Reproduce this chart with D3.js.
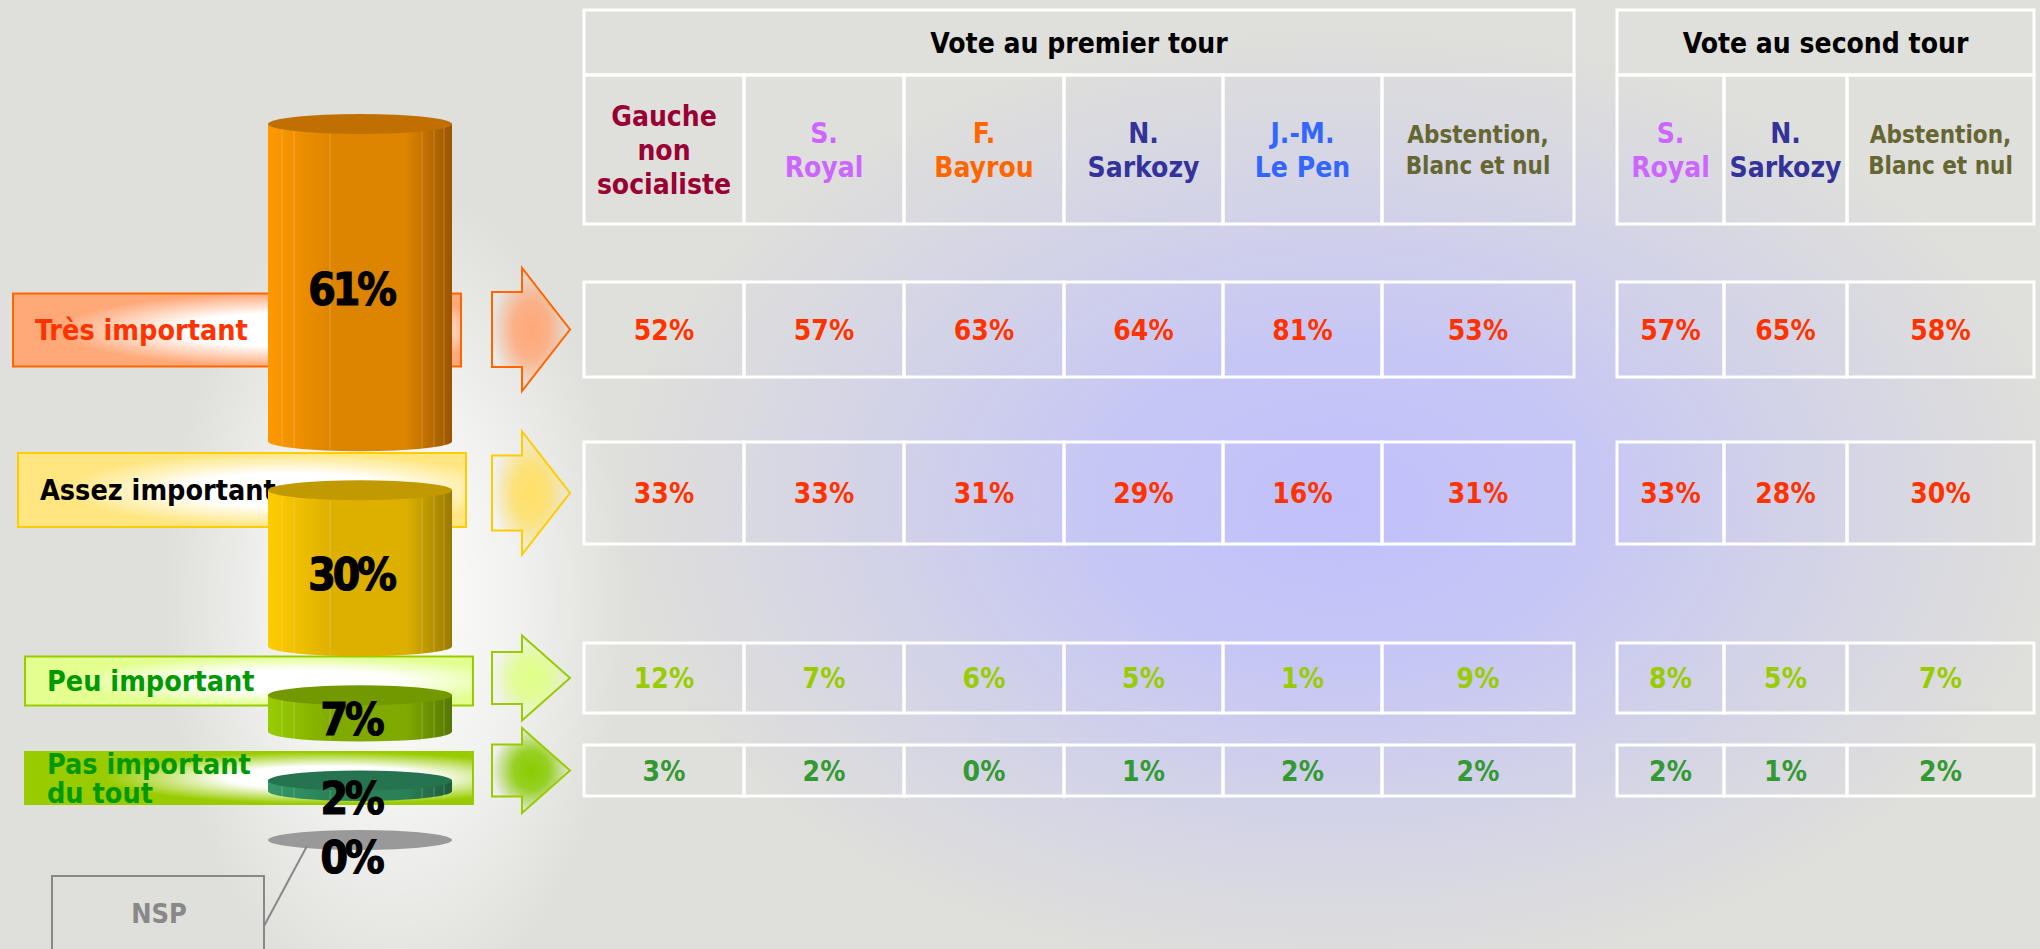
<!DOCTYPE html>
<html>
<head>
<meta charset="utf-8">
<style>
  body { margin: 0; background: #dfdfdb; }
  svg text {
    font-family: "DejaVu Sans Condensed", "DejaVu Sans", sans-serif;
    font-stretch: condensed;
    font-weight: bold;
  }
</style>
</head>
<body>
<svg width="2040" height="949"></svg>
<script src="https://d3js.org/d3.v7.min.js"></script>
<script>
// ---- data ----
var levels = ["Très important", "Assez important", "Peu important", "Pas important\ndu tout", "NSP"];
var overall = [61, 30, 7, 2, 0];

var tour1 = ["Gauche\nnon\nsocialiste", "S.\nRoyal", "F.\nBayrou", "N.\nSarkozy", "J.-M.\nLe Pen", "Abstention,\nBlanc et nul"];
var tour2 = ["S.\nRoyal", "N.\nSarkozy", "Abstention,\nBlanc et nul"];

var tour1Values = [
  [52, 57, 63, 64, 81, 53],
  [33, 33, 31, 29, 16, 31],
  [12, 7, 6, 5, 1, 9],
  [3, 2, 0, 1, 2, 2]
];
var tour2Values = [
  [57, 65, 58],
  [33, 28, 30],
  [8, 5, 7],
  [2, 1, 2]
];

// ---- styles ----
var headColors = {
  "Gauche\nnon\nsocialiste": "#990033",
  "S.\nRoyal": "#cc66ff",
  "F.\nBayrou": "#ff6600",
  "N.\nSarkozy": "#333399",
  "J.-M.\nLe Pen": "#3366ff",
  "Abstention,\nBlanc et nul": "#666633"
};
var valueColors = ["#ff3300", "#ff3300", "#99cc00", "#339933"];
var labelText = ["#ff3300", "#000000", "#009900", "#009900"];
var boxStroke = ["#ff6600", "#ffcc00", "#99cc00", "#99cc00"];
var boxFill = ["#ffa878", "#ffe680", "#e2ff90", "#99cc00"];
var arrowFill = ["#ffa878", "#ffe066", "#e0ff88", "#88cc00"];
var cyl = [
  {l: "#ff9900", m: "#dd8400", r: "#995500", top: "#c07000"},
  {l: "#ffcc00", m: "#ddb000", r: "#997a00", top: "#c09a00"},
  {l: "#99cc00", m: "#80aa00", r: "#557700", top: "#739900"},
  {l: "#339966", m: "#2b8056", r: "#1f5c3d", top: "#267350"},
  {l: "#999999", m: "#999999", r: "#999999", top: "#999999"}
];

// ---- layout ----
var rowTop = [282, 442, 643, 745],
    rowBot = [377, 544, 713, 796];
var t1x = 584, t1w = [160, 160, 160, 159, 159, 192];
var t2x = 1617, t2w = [107, 123, 187];
var headTop = 10, headMid = 75, headBot = 224;

var svg = d3.select("svg");
var defs = svg.append("defs");

function radial(id, stops, cx) {
  var g = defs.append("radialGradient").attr("id", id);
  if (cx) g.attr("cx", cx).attr("fx", cx);
  stops.forEach(function(s) {
    g.append("stop").attr("offset", s[0]).attr("stop-color", s[1]).attr("stop-opacity", s.length > 2 ? s[2] : 1);
  });
}
function linear(id, stops, vertical) {
  var g = defs.append("linearGradient").attr("id", id)
    .attr("x1", 0).attr("y1", 0).attr("x2", vertical ? 0 : 1).attr("y2", vertical ? 1 : 0);
  stops.forEach(function(s) {
    g.append("stop").attr("offset", s[0]).attr("stop-color", s[1]).attr("stop-opacity", s.length > 2 ? s[2] : 1);
  });
}

// background
svg.append("rect").attr("width", 2040).attr("height", 949).attr("fill", "#dfdfdb");
radial("blueGlow", [["0%", "#c0c0fc", 1], ["35%", "#c4c4f8", 0.9], ["100%", "#c8c8f0", 0]]);
svg.append("ellipse").attr("cx", 1340).attr("cy", 505).attr("rx", 730).attr("ry", 480)
  .attr("fill", "url(#blueGlow)");
radial("whiteGlow", [["0%", "#ffffff", 1], ["50%", "#ffffff", 0.6], ["100%", "#ffffff", 0]]);
svg.append("ellipse").attr("cx", 395).attr("cy", 600).attr("rx", 230).attr("ry", 420)
  .attr("fill", "url(#whiteGlow)");

// ---- tables ----
function table(x0, widths, heads, values, title) {
  var xs = [x0].concat(Array.from(d3.cumsum(widths), function(d) { return x0 + d; }));
  var g = svg.append("g").attr("fill", "none").attr("stroke", "#ffffff").attr("stroke-width", 3);
  var right = xs[xs.length - 1];

  g.append("rect").attr("x", x0).attr("y", headTop).attr("width", right - x0).attr("height", headMid - headTop);
  svg.append("text").attr("x", (x0 + right) / 2).attr("y", (headTop + headMid) / 2 + 10)
    .attr("text-anchor", "middle").attr("font-size", 28).attr("fill", "#000").text(title);

  heads.forEach(function(h, i) {
    g.append("rect").attr("x", xs[i]).attr("y", headMid).attr("width", widths[i]).attr("height", headBot - headMid);
    var lines = h.split("\n");
    var small = h.indexOf("Abstention") === 0;
    var fs = small ? 24 : 28, lh = small ? 31 : 34;
    var t = svg.append("text").attr("text-anchor", "middle").attr("font-size", fs)
      .attr("fill", headColors[h]);
    lines.forEach(function(l, k) {
      t.append("tspan").attr("x", xs[i] + widths[i] / 2)
        .attr("y", (headMid + headBot) / 2 + (k - (lines.length - 1) / 2) * lh + fs * 0.36)
        .text(l);
    });
  });

  values.forEach(function(row, r) {
    row.forEach(function(v, i) {
      g.append("rect").attr("x", xs[i]).attr("y", rowTop[r]).attr("width", widths[i]).attr("height", rowBot[r] - rowTop[r]);
      svg.append("text").attr("x", xs[i] + widths[i] / 2).attr("y", (rowTop[r] + rowBot[r]) / 2 + 10)
        .attr("text-anchor", "middle").attr("font-size", 28).attr("fill", valueColors[r])
        .text(v + "%");
    });
  });
}
table(t1x, t1w, tour1, tour1Values, "Vote au premier tour");
table(t2x, t2w, tour2, tour2Values, "Vote au second tour");

// ---- arrows ----
var arrowH = [123, 123, 85, 85], shaftH = [75, 75, 52, 52];
rowTop.forEach(function(t, i) {
  var cy = (t + rowBot[i]) / 2, h = arrowH[i], s = shaftH[i];
  var x0 = 492, xb = 522, xt = 570;
  radial("arrowFill" + i, [["0%", arrowFill[i], 1], ["45%", arrowFill[i], 0.85], ["100%", arrowFill[i], 0]]);
  var p = d3.path();
  p.moveTo(x0, cy - s / 2); p.lineTo(xb, cy - s / 2); p.lineTo(xb, cy - h / 2);
  p.lineTo(xt, cy); p.lineTo(xb, cy + h / 2); p.lineTo(xb, cy + s / 2);
  p.lineTo(x0, cy + s / 2); p.closePath();
  svg.append("path").attr("d", p.toString()).attr("fill", "url(#arrowFill" + i + ")")
    .attr("stroke", boxStroke[i]).attr("stroke-width", 2);
});

// ---- label boxes ----
var boxX = [13, 18, 25, 25], boxCy = [330, 490, 681, 778], boxH = [73, 74, 49, 52];
levels.slice(0, 4).forEach(function(lv, i) {
  radial("boxFill" + i, [["0%", "#ffffff"], ["45%", "#ffffff"], ["100%", boxFill[i]]], i === 3 ? 0.68 : 0.6);
  svg.append("rect").attr("x", boxX[i]).attr("y", boxCy[i] - boxH[i] / 2)
    .attr("width", 448).attr("height", boxH[i])
    .attr("fill", "url(#boxFill" + i + ")").attr("stroke", boxStroke[i]).attr("stroke-width", 2);
  var lines = lv.split("\n");
  var t = svg.append("text").attr("font-size", 28.5).attr("fill", labelText[i]);
  lines.forEach(function(l, k) {
    t.append("tspan").attr("x", boxX[i] + 22)
      .attr("y", boxCy[i] + (k - (lines.length - 1) / 2) * 29 + 10).text(l);
  });
});

// ---- cylinders ----
var h = d3.scaleLinear().domain([0, 100]).range([0, 520]);
var cx = 360, rx = 92, ry = 10, gap = 49;
var yTop = 124;
var tops = overall.map(function(v) { var t = yTop; yTop += h(v) + gap; return t; });

overall.forEach(function(v, i) {
  var t = tops[i], b = t + h(v), c = cyl[i];
  linear("cyl" + i, [["0%", c.l], ["35%", c.m], ["75%", c.m], ["100%", c.r]], false);
  var g = svg.append("g");
  if (v > 0) {
    var d = "M" + (cx - rx) + "," + t + "L" + (cx - rx) + "," + b +
      "A" + rx + "," + ry + " 0 0 0 " + (cx + rx) + "," + b +
      "L" + (cx + rx) + "," + t + "Z";
    g.append("path").attr("d", d).attr("fill", "url(#cyl" + i + ")");
    [-78, -66, -30, 62, 74, 84].forEach(function(dx) {
      g.append("line").attr("x1", cx + dx).attr("x2", cx + dx).attr("y1", t).attr("y2", b + ry * 0.8)
        .attr("stroke", "#ffffff").attr("stroke-opacity", 0.22).attr("stroke-width", 1);
    });
  }
  g.append("ellipse").attr("cx", cx).attr("cy", t).attr("rx", rx).attr("ry", ry).attr("fill", c.top);
});

// NSP callout
svg.append("rect").attr("x", 52).attr("y", 876).attr("width", 212).attr("height", 100)
  .attr("fill", "none").attr("stroke", "#888888").attr("stroke-width", 2);
svg.append("text").attr("x", 159).attr("y", 923).attr("text-anchor", "middle")
  .attr("font-size", 27).attr("fill", "#888888").text(levels[4]);
svg.append("line").attr("x1", 264).attr("y1", 926).attr("x2", 307).attr("y2", tops[4] + 6)
  .attr("stroke", "#888888").attr("stroke-width", 2);

// percentage labels
overall.forEach(function(v, i) {
  var t = tops[i], mid = t + h(v) / 2;
  svg.append("text").attr("x", 351).attr("y", Math.max(mid + 7, t + 18) + 15)
    .attr("text-anchor", "middle").attr("font-size", 44).attr("letter-spacing", -3)
    .attr("font-stretch", "normal").style("font-family", "'DejaVu Sans', sans-serif")
    .attr("stroke", "#000").attr("stroke-width", 1.2)
    .attr("fill", "#000").text(v + "%");
});
</script>
</body>
</html>
